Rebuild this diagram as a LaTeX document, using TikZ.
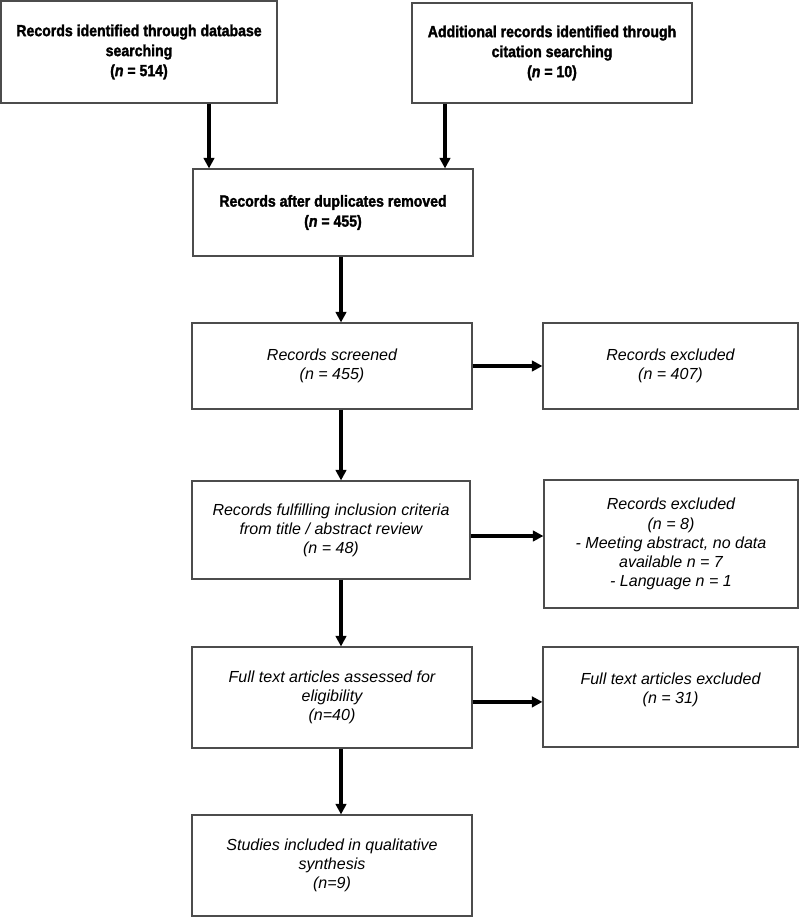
\documentclass[tikz,border=0pt]{standalone}
\usepackage{fontspec}
\setmainfont{Liberation Sans}
\newfontfamily\headfont{Liberation Sans}[FakeStretch=0.88,FakeBold=1.8]
\usetikzlibrary{arrows.meta}
\tikzstyle{headbox} = [rectangle, draw=black!70, line width=0.8pt, inner sep=0pt, align=center, font=\headfont\bfseries\fontsize{11.4}{14.2}\selectfont]
\tikzstyle{stagebox} = [rectangle, draw=black!70, line width=0.8pt, inner sep=0pt, align=center, font=\itshape\fontsize{11.4}{13.6}\selectfont]
\tikzstyle{arrow} = [line width=2.4pt, -{Triangle[length=7.5pt,width=7.5pt]}]

\begin{document}
\begin{tikzpicture}[x=0.025cm, y=-0.025cm]
\useasboundingbox (0,0) rectangle (800,918);
% NODES
\node (database) [headbox, minimum width=6.9cm, minimum height=2.55cm] at (139,52) {Records identified through database\\searching\\(\textit{n} = 514)};
\node (citation) [headbox, minimum width=7cm, minimum height=2.5cm] at (552,53) {Additional records identified through\\citation searching\\(\textit{n} = 10)};
\node (duplicates) [headbox, minimum width=7cm, minimum height=2.175cm] at (333,212.5) {Records after duplicates removed\\(\textit{n} = 455)};

\node (screened) [stagebox, minimum width=7cm, minimum height=2.15cm] at (332,366) {Records screened\\(n = 455)};
\node (excluded) [stagebox, minimum width=6.375cm, minimum height=2.15cm] at (670.5,366) {Records excluded\\(n = 407)};

\node (fulfilling) [stagebox, minimum width=6.95cm, minimum height=2.45cm] at (331,530) {Records fulfilling inclusion criteria\\from title / abstract review\\(n = 48)};
\node (excluded-abstract) [stagebox, minimum width=6.35cm, minimum height=3.2cm] at (671,544) {Records excluded\\(n = 8)\\- Meeting abstract, no data\\available n = 7\\- Language n = 1};

\node (fulltext) [stagebox, minimum width=7cm, minimum height=2.525cm] at (332,697.5) {Full text articles assessed for\\eligibility\\(n=40)};
\node (excluded-fulltext) [stagebox, minimum width=6.375cm, minimum height=2.5cm] at (670.5,697) {Full text articles excluded\\(n = 31)\\[-1pt]};

\node (included) [stagebox, minimum width=7cm, minimum height=2.525cm] at (332,865.5) {Studies included in qualitative\\synthesis\\(n=9)};

\coordinate (database-x) at (209,0);
\coordinate (citation-x) at (445,0);
\coordinate (spine) at (341,0);

% ARROWS
\draw [arrow] (database.south -| database-x) -- (duplicates.north -| database-x);
\draw [arrow] (citation.south -| citation-x) -- (duplicates.north -| citation-x);

\draw [arrow] (duplicates.south -| spine) -- (screened.north -| spine);
\draw [arrow] (screened.east) -- (screened.east -| excluded.west);

\draw [arrow] (screened.south -| spine) -- (fulfilling.north -| spine);
\draw [arrow] ([yshift=-0.15cm]fulfilling.east) -- ([yshift=-0.15cm]fulfilling.east -| excluded-abstract.west);

\draw [arrow] (fulfilling.south -| spine) -- (fulltext.north -| spine);
\draw [arrow] ([yshift=-0.11cm]fulltext.east) -- ([yshift=-0.11cm]fulltext.east -| excluded-fulltext.west);

\draw [arrow] (fulltext.south -| spine) -- (included.north -| spine);
\end{tikzpicture}
\end{document}
